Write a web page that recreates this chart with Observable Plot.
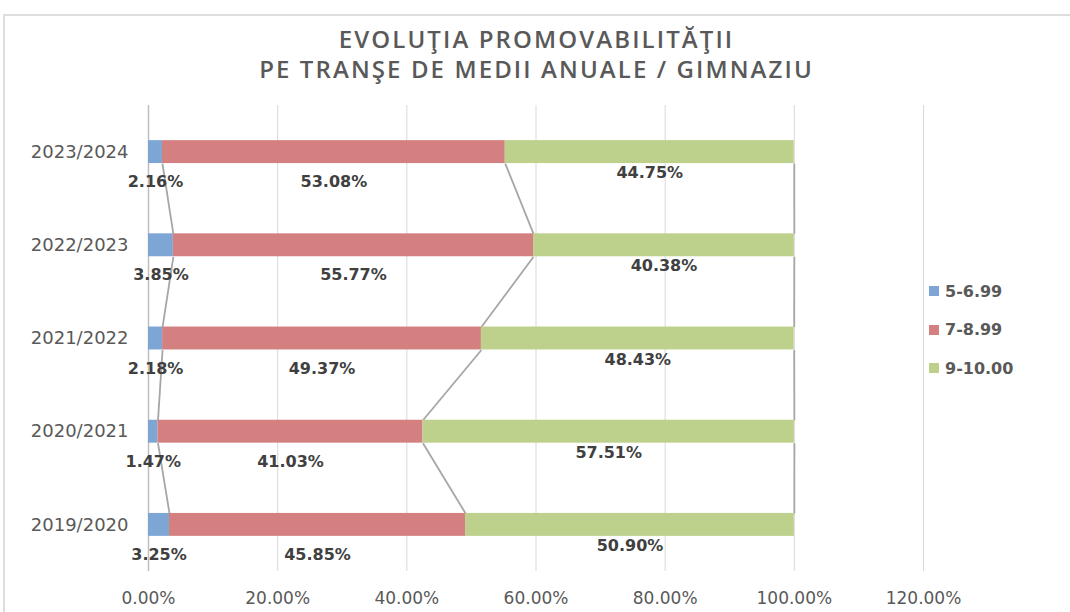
<!DOCTYPE html>
<html><head><meta charset="utf-8">
<script src="https://cdn.jsdelivr.net/npm/d3@7"></script>
<script src="https://cdn.jsdelivr.net/npm/@observablehq/plot@0.6"></script>
<style>
body{margin:0;background:#fff;width:1070px;height:612px;overflow:hidden;position:relative;font-family:"DejaVu Sans",sans-serif}
#frame{position:absolute;left:3px;top:14px;width:1080px;height:620px;border-left:2px solid #dedede;border-top:2px solid #dedede}
#title{position:absolute;left:0;width:1073px;top:24px;text-align:center;font-family:"Open Sans",sans-serif;font-size:24px;line-height:30px;font-weight:600;letter-spacing:2.1px;color:#595959}
#chart{position:absolute;left:0;top:0}
#legend{position:absolute;left:929px;top:272px;font-size:16px;font-weight:bold;color:#595959}
.item{height:38.5px;display:flex;align-items:center;position:relative}
.sw{width:10px;height:10px;margin-right:6px}
</style></head>
<body>
<div id="frame"></div>
<div id="chart"></div>
<div id="title">EVOLUŢIA PROMOVABILITĂŢII<br>PE TRANŞE DE MEDII ANUALE / GIMNAZIU</div>
<div id="legend"></div>
<script>
const years = ["2019/2020","2020/2021","2021/2022","2022/2023","2023/2024"];
const low  = [3.25, 1.47, 2.18, 3.85, 2.16];
const mid  = [45.85, 41.03, 49.37, 55.77, 53.08];
const high = [50.90, 57.51, 48.43, 40.38, 44.75];
const series = ["5-6.99","7-8.99","9-10.00"];
const colors = ["#7ea6d4","#d58080","#bdd08c"];
const xTicks = [0,20,40,60,80,100,120];

const rows = [];
years.forEach((y,i)=>{
  let c = 0;
  [low[i],mid[i],high[i]].forEach((v,k)=>{
    rows.push({i, year:y, k, series:series[k], x1:c, x2:c+v, v});
    c += v;
  });
});
const H = 0.123;
const links = [];
for (let i = years.length-1; i > 0; i--) {
  for (const k of [0,1,2]) {
    const up = rows.find(r=>r.i===i && r.k===k);
    const lo = rows.find(r=>r.i===i-1 && r.k===k);
    links.push({x1:up.x2, y1:i-H, x2:lo.x2, y2:i-1+H});
  }
}

const chart = Plot.plot({
  width:1070, height:612,
  marginLeft:148, marginRight:147, marginTop:105, marginBottom:41,
  x:{domain:[0,120]},
  y:{domain:[-0.5,4.5]},
  color:{domain:series, range:colors},
  style:{fontFamily:'"DejaVu Sans",sans-serif', background:"transparent", color:"#595959"},
  marks:[
    Plot.gridX(xTicks, {stroke:"#d9d9d9", strokeOpacity:1, strokeWidth:1}),
    Plot.ruleX([0], {stroke:"#bfbfbf", strokeWidth:1.5}),
    Plot.link(links, {x1:"x1", y1:"y1", x2:"x2", y2:"y2", stroke:"#a6a6a6", strokeWidth:1.8}),
    Plot.rectX(rows, {x1:"x1", x2:"x2", y1:d=>d.i-H, y2:d=>d.i+H, fill:"series"}),
    Plot.text(rows.filter(d=>d.k<2), {x:d=>(d.x1+d.x2)/2, y:"i", text:d=>d.v.toFixed(2)+"%", dy:30, fontSize:16, fontWeight:"bold", fill:"#404040"}),
    Plot.text(rows.filter(d=>d.k===2), {x:d=>(d.x1+d.x2)/2, y:"i", text:d=>d.v.toFixed(2)+"%", dy:21, fontSize:16, fontWeight:"bold", fill:"#404040"}),
    Plot.axisX({ticks:xTicks, tickFormat:d=>d.toFixed(2)+"%", tickSize:0, tickPadding:20, fontSize:17, label:null}),
    Plot.axisY({ticks:[0,1,2,3,4], tickFormat:i=>years[i], tickSize:0, tickPadding:20, fontSize:18, label:null})
  ]
});
document.getElementById("chart").appendChild(chart);

const color = chart.scale("color");
const leg = document.getElementById("legend");
series.forEach(s=>{
  const it = document.createElement("div"); it.className="item";
  const sw = document.createElement("span"); sw.className="sw"; sw.style.background=color.apply(s);
  const t = document.createElement("span"); t.textContent=s;
  it.appendChild(sw); it.appendChild(t); leg.appendChild(it);
});
</script>
</body></html>
